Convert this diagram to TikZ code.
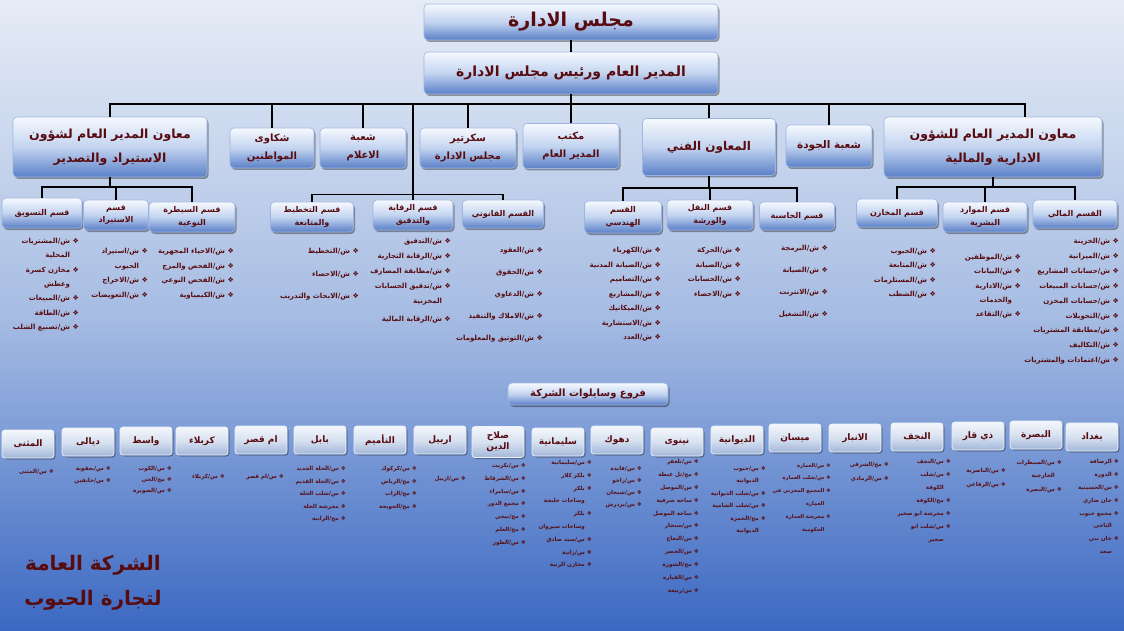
\documentclass[tikz,border=0pt]{standalone}
\usepackage{fontspec}
\usetikzlibrary{shadows,calc}
\TeXXeTstate=1
\newfontfamily\arb[Script=Arabic,BoldFont={DejaVu Sans Bold}]{DejaVu Sans}
\definecolor{txt}{RGB}{88,12,16}
\definecolor{bgtop}{HTML}{E6ECF6}
\definecolor{bgmid}{HTML}{A6BCE3}
\definecolor{bgbot}{HTML}{3B68C2}
\definecolor{boxtop}{HTML}{F6F9FE}
\definecolor{boxmid}{HTML}{C3D4F0}
\definecolor{boxbot}{HTML}{5A80C8}
\definecolor{boxline}{HTML}{9DB5E0}
\definecolor{brtop}{HTML}{F4F7FC}
\definecolor{brmid}{HTML}{D7E1F0}
\definecolor{brbot}{HTML}{A3B7DA}
\newcommand\rl[1]{\beginR#1\endR}
\newcommand\blt{❖\ }
\newcommand\nobl{\hphantom{❖\ }}
\begin{document}
\begin{tikzpicture}[x=1pt,y=-1pt,
  fs/.style 2 args={font=\arb\bfseries\fontsize{#1}{#2}\selectfont},
  sz/.style 2 args={minimum width=#1, minimum height=#2},
  box/.style={draw=boxline, line width=0.6pt, rounded corners=4pt,
    top color=boxtop, bottom color=boxbot, middle color=boxmid,
    drop shadow={shadow xshift=1.5pt,shadow yshift=-2pt,opacity=0.35,fill=black},
    text=txt, align=center, inner sep=1pt},
  brbox/.style={draw=white!80!boxline, line width=0.8pt, rounded corners=3pt,
    top color=brtop, bottom color=brbot, middle color=brmid,
    drop shadow={shadow xshift=1.5pt,shadow yshift=-1.5pt,opacity=0.3,fill=black},
    text=txt, align=center, inner sep=1pt, minimum width=52, minimum height=28,
    font=\arb\bfseries\fontsize{9}{11}\selectfont},
  lst/.style={anchor=north east, inner sep=0pt, align=right, text=txt,
    font=\arb\bfseries\fontsize{7}{#1}\selectfont},
  blst/.style={anchor=north east, inner sep=0pt, align=right, text=txt,
    font=\arb\bfseries\fontsize{5.6}{#1}\selectfont},
  wire/.style={draw=black, line width=1.6pt}]
\useasboundingbox (0,0) rectangle (1124,631);
\shade[top color=bgtop, bottom color=bgbot, middle color=bgmid] (0,0) rectangle (1124,631);
\coordinate (busA) at (0,104);

% top levels
\node[box, sz={294}{36}, fs={19}{22}] (board) at (571,22) {\rl{مجلس الادارة}};
\node[box, sz={294}{42}, fs={14}{18}] (gm) at (571,73) {\rl{المدير العام ورئيس مجلس الادارة}};

% second row
\node[box, sz={194}{60}, fs={12.5}{24}] (lft) at (110,147) {\rl{معاون المدير العام لشؤون}\\\rl{الاستيراد والتصدير}};
\node[box, sz={84}{40}, fs={10}{18}] (shak) at (272,148) {\rl{شكاوى}\\\rl{المواطنين}};
\node[box, sz={86}{40}, fs={10}{18}] (ilam) at (363,148) {\rl{شعبة}\\\rl{الاعلام}};
\node[box, sz={96}{40}, fs={10}{18}] (sec) at (468,148) {\rl{سكرتير}\\\rl{مجلس الادارة}};
\node[box, sz={96}{45}, fs={10}{18}] (mak) at (571,146) {\rl{مكتب}\\\rl{المدير العام}};
\node[box, sz={133}{57}, fs={12}{22}] (fanni) at (709,147) {\rl{المعاون الفني}};
\node[box, sz={86}{42}, fs={10.5}{17}] (jawda) at (829,146) {\rl{شعبة الجودة}};
\node[box, sz={218}{60}, fs={12.5}{24}] (rt) at (993,147) {\rl{معاون المدير العام للشؤون}\\\rl{الادارية والمالية}};

% departments
\node[box, sz={80}{30}, fs={8}{12.5}] (taswiq) at (42,213) {\rl{قسم التسويق}};
\node[box, sz={65}{30}, fs={8}{12.5}] (istirad) at (116,215) {\rl{قسم}\\\rl{الاستيراد}};
\node[box, sz={86}{30}, fs={8}{12.5}] (saitara) at (192,217) {\rl{قسم السيطرة}\\\rl{النوعية}};
\node[box, sz={83}{30}, fs={8}{12.5}] (takhtit) at (312,217) {\rl{قسم التخطيط}\\\rl{والمتابعة}};
\node[box, sz={80}{30}, fs={8}{12.5}] (raqaba) at (413,215) {\rl{قسم الرقابة}\\\rl{والتدقيق}};
\node[box, sz={81}{28}, fs={8}{12.5}] (qanuni) at (503,214) {\rl{القسم القانوني}};
\node[box, sz={77}{32}, fs={8}{12.5}] (handasi) at (623,217) {\rl{القسم}\\\rl{الهندسي}};
\node[box, sz={86}{30}, fs={8}{12.5}] (naql) at (710,215) {\rl{قسم النقل}\\\rl{والورشة}};
\node[box, sz={75}{28}, fs={8}{12.5}] (hasiba) at (797,216) {\rl{قسم الحاسبة}};
\node[box, sz={81}{28}, fs={8}{12.5}] (makhazin) at (897,213) {\rl{قسم المخازن}};
\node[box, sz={84}{30}, fs={8}{12.5}] (mawarid) at (985,217) {\rl{قسم الموارد}\\\rl{البشرية}};
\node[box, sz={84}{28}, fs={8}{12.5}] (mali) at (1075,214) {\rl{القسم المالي}};

% connectors
\draw[wire] (board) -- (gm);
\foreach \n in {lft,shak,ilam,sec,mak,fanni,jawda,raqaba}
  \draw[wire] (gm.south) -- (gm.south |- busA) -| (\n.north);
\draw[wire] (gm.south) -- (gm.south |- busA) -| ([xshift=32pt]rt.north);
\draw[wire] ([yshift=5pt]raqaba.north) -| (takhtit.north);
\draw[wire] ([yshift=5pt]raqaba.north) -| (qanuni.north);
\foreach \n in {taswiq,istirad,saitara}
  \draw[wire] (lft.south) -- ++(0,10) -| (\n.north);
\foreach \n in {handasi,naql,hasiba}
  \draw[wire] (fanni.south) -- ++(0,12) -| (\n.north);
\foreach \n in {makhazin,mawarid,mali}
  \draw[wire] (rt.south) -- ++(0,10) -| (\n.north);

% department lists
\node[lst=14.3] (l-taswiq) at (79,238) {\rl{\blt ش/المشتريات}\\\rl{\nobl المحلية}\\\rl{\blt مخازن كسرة}\\\rl{\nobl وعطش}\\\rl{\blt ش/المبيعات}\\\rl{\blt ش/الطاقة}\\\rl{\blt ش/تصنيع الشلب}};
\node[lst=14.5] (l-istirad) at (148,248) {\rl{\blt ش/استيراد}\\\rl{\nobl الحبوب}\\\rl{\blt ش/الاخراج}\\\rl{\blt ش/التعويضات}};
\node[lst=14.7] (l-saitara) at (234,248) {\rl{\blt ش/الاحياء المجهرية}\\\rl{\blt ش/الفحص والمزج}\\\rl{\blt ش/الفحص النوعي}\\\rl{\blt ش/الكيمياوية}};
\node[lst=22.5] (l-takhtit) at (359,248) {\rl{\blt ش/التخطيط}\\\rl{\blt ش/الاحصاء}\\\rl{\blt ش/الابحاث والتدريب}};
\node[lst=15] (l-raqaba) at (451,238) {\rl{\blt ش/التدقيق}\\\rl{\blt ش/الرقابة التجارية}\\\rl{\blt ش/مطابقة المصارف}\\\rl{\blt ش/تدقيق الحسابات}\\\rl{\nobl المخزنية}\\[3pt]\rl{\blt ش/الرقابة المالية}};
\node[lst=22] (l-qanuni) at (543,247) {\rl{\blt ش/العقود}\\\rl{\blt ش/الحقوق}\\\rl{\blt ش/الدعاوي}\\\rl{\blt ش/الاملاك والتنفيذ}\\\rl{\blt ش/التوثيق والمعلومات}};
\node[lst=14.5] (l-handasi) at (661,247) {\rl{\blt ش/الكهرباء}\\\rl{\blt ش/الصيانة المدنية}\\\rl{\blt ش/التصاميم}\\\rl{\blt ش/المشاريع}\\\rl{\blt ش/الميكانيك}\\\rl{\blt ش/الاستشارية}\\\rl{\blt ش/العدد}};
\node[lst=14.7] (l-naql) at (741,247) {\rl{\blt ش/الحركة}\\\rl{\blt ش/الصيانة}\\\rl{\blt ش/الحسابات}\\\rl{\blt ش/الاحصاء}};
\node[lst=22] (l-hasiba) at (828,245) {\rl{\blt ش/البرمجة}\\\rl{\blt ش/الصيانة}\\\rl{\blt ش/الانترنت}\\\rl{\blt ش/التشغيل}};
\node[lst=14.3] (l-makhazin) at (936,248) {\rl{\blt ش/الحبوب}\\\rl{\blt ش/المتابعة}\\\rl{\blt ش/المستلزمات}\\\rl{\blt ش/الشطب}};
\node[lst=14.3] (l-mawarid) at (1021,254) {\rl{\blt ش/الموظفين}\\\rl{\blt ش/البيانات}\\\rl{\blt ش/الادارية}\\\rl{\nobl والخدمات}\\\rl{\blt ش/التقاعد}};
\node[lst=14.9] (l-mali) at (1119,238) {\rl{\blt ش/الخزينة}\\\rl{\blt ش/الميزانية}\\\rl{\blt ش/حسابات المشاريع}\\\rl{\blt ش/حسابات المبيعات}\\\rl{\blt ش/حسابات المخزن}\\\rl{\blt ش/التحويلات}\\\rl{\blt ش/مطابقة المشتريات}\\\rl{\blt ش/التكاليف}\\\rl{\blt ش/اعتمادات والمشتريات}};

% branches header
\node[box, sz={160}{22}, fs={10}{12}] (furu) at (588,394) {\rl{فروع وسايلوات الشركة}};

% branch boxes
\node[brbox] (muthanna) at (28,444) {\rl{المثنى}};
\node[brbox] (diyala) at (88,442) {\rl{ديالى}};
\node[brbox] (wasit) at (146,441) {\rl{واسط}};
\node[brbox] (karbala) at (202,441) {\rl{كربلاء}};
\node[brbox] (umqasr) at (261,440) {\rl{ام قصر}};
\node[brbox] (babil) at (320,440) {\rl{بابل}};
\node[brbox] (tamim) at (380,440) {\rl{التأميم}};
\node[brbox] (erbil) at (440,440) {\rl{اربيل}};
\node[brbox, minimum height=31] (salah) at (498,442) {\rl{صلاح}\\\rl{الدين}};
\node[brbox] (sulay) at (558,442) {\rl{سليمانية}};
\node[brbox] (duhok) at (617,440) {\rl{دهوك}};
\node[brbox] (ninawa) at (677,442) {\rl{نينوى}};
\node[brbox] (diwaniya) at (737,440) {\rl{الديوانية}};
\node[brbox] (maysan) at (795,438) {\rl{ميسان}};
\node[brbox] (anbar) at (855,438) {\rl{الانبار}};
\node[brbox] (najaf) at (917,437) {\rl{النجف}};
\node[brbox] (dhiqar) at (978,436) {\rl{ذي قار}};
\node[brbox] (basra) at (1036,435) {\rl{البصرة}};
\node[brbox] (baghdad) at (1092,437) {\rl{بغداد}};

% branch lists
\node[blst=12] (b-muthanna) at (54,469) {\rl{\blt س/المثنى}};
\node[blst=12] (b-diyala) at (111,466) {\rl{\blt س/بعقوبة}\\\rl{\blt س/خانقين}};
\node[blst=11] (b-wasit) at (172,466) {\rl{\blt س/الكوت}\\\rl{\blt مج/الحي}\\\rl{\blt س/الصويرة}};
\node[blst=12] (b-karbala) at (225,474) {\rl{\blt س/كربلاء}};
\node[blst=12] (b-umqasr) at (284,474) {\rl{\blt س/ام قصر}};
\node[blst=12.6] (b-babil) at (346,466) {\rl{\blt س/الحلة الجديد}\\\rl{\blt س/الحلة القديم}\\\rl{\blt س/شلب الحلة}\\\rl{\blt مجرشة الحلة}\\\rl{\blt مج/الرابية}};
\node[blst=12.6] (b-tamim) at (417,466) {\rl{\blt س/كركوك}\\\rl{\blt مج/الرياض}\\\rl{\blt مج/الزاب}\\\rl{\blt مج/الحويجة}};
\node[blst=12] (b-erbil) at (466,476) {\rl{\blt س/اربيل}};
\node[blst=12.8] (b-salah) at (526,463) {\rl{\blt س/تكريت}\\\rl{\blt س/الشرقاط}\\\rl{\blt س/سامراء}\\\rl{\blt مجمع الدور}\\\rl{\blt مج/بيجي}\\\rl{\blt مج/العلم}\\\rl{\blt س/الطوز}};
\node[blst=12.8] (b-sulay) at (592,460) {\rl{\blt س/سليمانية}\\\rl{\blt بلكر كلار}\\\rl{\blt بلكر}\\\rl{\nobl وساحات حلبجة}\\\rl{\blt بلكر}\\\rl{\nobl وساحات سيروان}\\\rl{\blt س/سيد صادق}\\\rl{\blt س/رانية}\\\rl{\blt مخازن الرنية}};
\node[blst=12] (b-duhok) at (642,466) {\rl{\blt س/فايدة}\\\rl{\blt س/زاخو}\\\rl{\blt س/شيخان}\\\rl{\blt س/بردرش}};
\node[blst=12.9] (b-ninawa) at (699,459) {\rl{\blt س/تلعفر}\\\rl{\blt مج/تل عبطة}\\\rl{\blt س/الموصل}\\\rl{\blt ساحة شرقية}\\\rl{\blt ساحة الموصل}\\\rl{\blt س/سنجار}\\\rl{\blt س/البعاج}\\\rl{\blt س/الحضر}\\\rl{\blt مج/الشورة}\\\rl{\blt س/القيارة}\\\rl{\blt س/ربيعة}};
\node[blst=12.5] (b-diwaniya) at (766,466) {\rl{\blt س/حبوب}\\\rl{\nobl الديوانية}\\\rl{\blt س/شلب الديوانية}\\\rl{\blt س/شلب الشامية}\\\rl{\blt مج/الحمزة}\\\rl{\nobl الديوانية}};
\node[blst=12.8, font=\arb\bfseries\fontsize{5.2}{12.8}\selectfont] (b-maysan) at (831,463) {\rl{\blt س/العمارة}\\\rl{\blt س/شلب العمارة}\\\rl{\blt المجمع المخزني في}\\\rl{\nobl العمارة}\\\rl{\blt مجرشة العمارة}\\\rl{\nobl الحكومية}};
\node[blst=14] (b-anbar) at (889,462) {\rl{\blt مج/الشرقي}\\\rl{\blt س/الرمادي}};
\node[blst=13] (b-najaf) at (951,459) {\rl{\blt س/النجف}\\\rl{\blt س/شلب}\\\rl{\nobl الكوفة}\\\rl{\blt مج/الكوفة}\\\rl{\blt مجرشة ابو صخير}\\\rl{\blt س/شلب ابو}\\\rl{\nobl صخير}};
\node[blst=14] (b-dhiqar) at (1006,468) {\rl{\blt س/الناصرية}\\\rl{\blt س/الرفاعي}};
\node[blst=13.5] (b-basra) at (1062,460) {\rl{\blt س/السيطرات}\\\rl{\nobl الخارجية}\\\rl{\blt س/البصرة}};
\node[blst=12.9] (b-baghdad) at (1119,459) {\rl{\blt الرصافة}\\\rl{\blt الدورة}\\\rl{\blt س/الحسينية}\\\rl{\blt خان ضاري}\\\rl{\blt مجمع حبوب}\\\rl{\nobl التاجي}\\\rl{\blt خان بني}\\\rl{\nobl سعد}};

% company name
\node[align=center, text=txt, fs={20}{35}] (logo) at (93,583) {\rl{الشركة العامة}\\\rl{لتجارة الحبوب}};
\end{tikzpicture}
\end{document}
